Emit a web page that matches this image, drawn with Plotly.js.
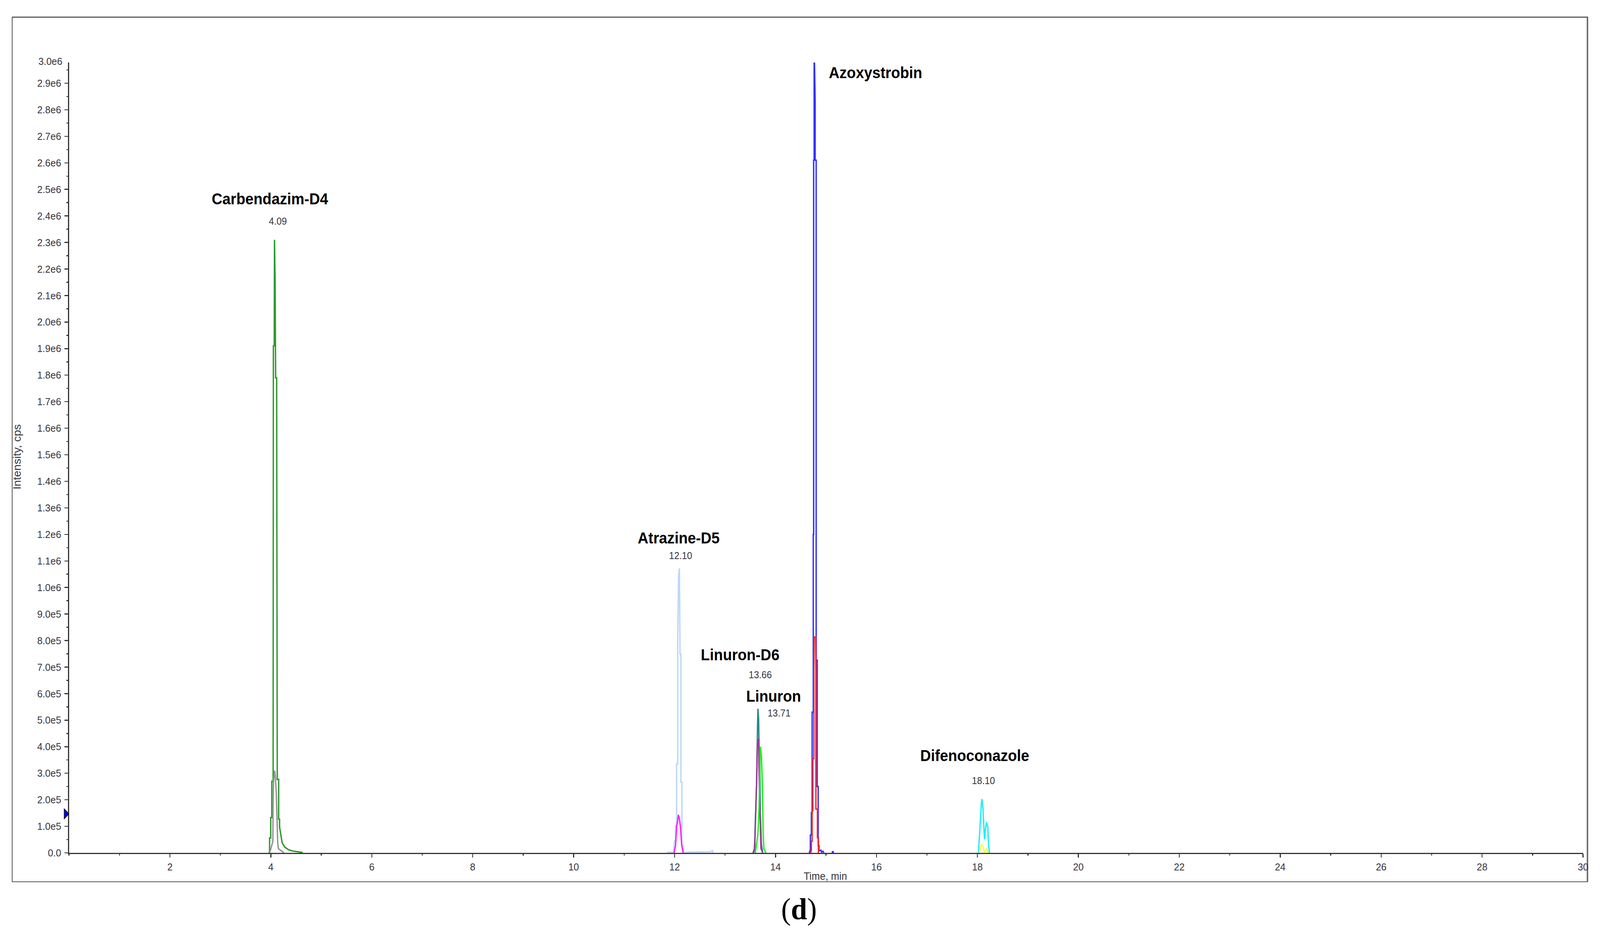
<!DOCTYPE html>
<html>
<head>
<meta charset="utf-8">
<script src="https://cdn.plot.ly/plotly-3.0.1.min.js"></script>
<style>html,body{margin:0;padding:0;background:#fff;overflow:hidden}#chart{width:4338px;height:2383px;transform-origin:0 0}</style>
</head>
<body>
<div id="chart"></div>
<script>
// intensity values are in units of 1e5 cps
const greenT=[3.965,3.975,3.975,3.997,3.997,4.019,4.019,4.045,4.05,4.067,4.072,4.085,4.095,4.115,4.127,4.155,4.155,4.173,4.173,4.20,4.224,4.275,4.348,4.428,4.50,4.611,4.63];
const greenI=[0,0.05,0.56,0.56,1.33,1.33,2.7,2.7,19.1,19.1,23.1,21.5,17.9,17.9,2.77,2.77,1.27,1.27,0.97,0.66,0.38,0.22,0.12,0.07,0.05,0.02,0];
const grayT=[3.97,3.98,4.01,4.04,4.045,4.053,4.077,4.09,4.107,4.127,4.136,4.15,4.21,4.26];
const grayI=[0,0.03,0.22,0.44,2.0,2.7,3.1,2.84,2.3,0.97,0.38,0.16,0.07,0];
const atrazineT=[11.85,11.95,11.98,11.985,12.00,12.02,12.02,12.04,12.04,12.062,12.062,12.08,12.095,12.108,12.108,12.125,12.125,12.145,12.145,12.17,12.18,12.3,12.5,12.7,12.74,12.75,12.76];
const atrazineI=[0.02,0.02,0,0.27,0.46,0.46,1.03,1.03,3.35,3.35,8.1,10.5,10.72,8.1,7.48,7.48,2.66,2.66,0.27,0.27,0,0.03,0.04,0.04,0.07,0.1,0];
const pinkT=[11.99,12.02,12.04,12.06,12.075,12.095,12.115,12.14,12.17];
const pinkI=[0,0.3,1.0,1.2,1.43,1.3,1.0,0.3,0];
const tealT=[13.56,13.59,13.597,13.626,13.643,13.651,13.665,13.674,13.691,13.698,13.722,13.747];
const tealI=[0,0.1,1.03,2.7,4.77,5.43,5.05,4.0,3.3,1.5,0.3,0];
const purpleT=[13.553,13.58,13.597,13.623,13.64,13.665,13.674,13.698,13.71,13.747];
const purpleI=[0,0.15,0.85,2.5,4.06,4.3,2.9,1.3,0.17,0];
const limeT=[13.60,13.651,13.674,13.686,13.70,13.722,13.735,13.755,13.77,13.81];
const limeI=[0,0.7,1.7,2.9,4.0,3.6,2.8,0.73,0.15,0];
const blueT=[14.665,14.675,14.69,14.69,14.71,14.71,14.725,14.725,14.748,14.748,14.755,14.755,14.765,14.765,14.772,14.785,14.785,14.805,14.805,14.825,14.825,14.845,14.845,14.862,14.862,14.90,14.91,14.94,14.96,null,15.12,15.135,15.15];
const blueI=[0,0.03,0.12,0.67,0.67,1.52,1.52,5.3,5.3,12,12,26.1,26.1,29.8,29.8,28.3,26.1,26.1,7.26,7.26,2.5,2.5,0.27,0.27,0.08,0.1,0.03,0.06,0,null,0,0.06,0];
const redT=[14.695,14.71,14.71,14.725,14.725,14.74,14.74,14.76,14.76,14.765,14.795,14.80,14.80,14.83,14.83,14.85,14.85];
const redI=[0,0.1,0.44,0.44,1.59,1.59,3.55,3.55,6.9,8.13,8.13,6.9,1.65,1.65,0.57,0.57,0];
const cyanT=[18.02,18.035,18.06,18.08,18.09,18.11,18.13,18.14,18.16,18.18,18.205,18.22,18.24];
const cyanI=[0,0.51,1.25,1.9,2.03,1.7,0.9,0.51,0.9,1.15,1.0,0.3,0];
const yellowT=[18.035,18.06,18.085,18.11,18.135,18.18,18.22];
const yellowI=[0,0.2,0.3,0.25,0.02,0.16,0];

const seriesT=[greenT,grayT,atrazineT,pinkT,tealT,purpleT,limeT,blueT,redT,cyanT,yellowT];
const seriesI=[greenI,grayI,atrazineI,pinkI,tealI,purpleI,limeI,blueI,redI,cyanI,yellowI];
const seriesC=['#2f982f','#939393','#bdd7f6','#ff20ff','#2a8a8a','#983c98','#20ee20','#3030ff','#ff2424','#20eeff','#ffff30'];

const yLabels=['0.0','1.0e5','2.0e5','3.0e5','4.0e5','5.0e5','6.0e5','7.0e5','8.0e5','9.0e5','1.0e6','1.1e6','1.2e6','1.3e6','1.4e6','1.5e6','1.6e6','1.7e6','1.8e6','1.9e6','2.0e6','2.1e6','2.2e6','2.3e6','2.4e6','2.5e6','2.6e6','2.7e6','2.8e6','2.9e6'];
const yTicks=[0,1,2,3,4,5,6,7,8,9,10,11,12,13,14,15,16,17,18,19,20,21,22,23,24,25,26,27,28,29];
const xTicks=[2,4,6,8,10,12,14,16,18,20,22,24,26,28,30];

const nameText=['Carbendazim-D4','Atrazine-D5','Linuron-D6','Linuron','Azoxystrobin','Difenoconazole'];
const nameT=[3.98,12.08,13.30,13.96,15.98,17.95];
const nameI=[24.64,11.87,7.46,5.90,29.4,3.665];
const rtText=['4.09','12.10','13.66','13.71','14.78','18.10'];
const rtT=[4.143,12.12,13.70,14.07,14.77,18.12];
const rtI=[23.8,11.2,6.71,5.27,30.05,2.72];
const thresholdI=1.47;
const yMax=29.78;

const W=4338,H=2383,L=187,R=4292,T=160,B=2183;
// the browser window may be narrower than the requested picture: fit the whole figure into it
const fitX=Math.min(1,window.innerWidth/W);
document.getElementById('chart').style.transform='scale('+fitX+',1)';

const px=v=>(v-L)/(R-L), py=v=>(B-v)/(B-T);
const sans='"Liberation Sans", Arial, sans-serif';
const grey='#35353f';

const traces=seriesT.map((t,i)=>({x:t,y:seriesI[i],type:'scatter',mode:'lines',connectgaps:false,
  line:{color:seriesC[i],width:3.7,shape:'linear'},hoverinfo:'skip',showlegend:false}));

const ann=[];
nameText.forEach((s,i)=>ann.push({x:nameT[i],y:nameI[i],text:'<b>'+s+'</b>',showarrow:false,xanchor:'center',yanchor:'middle',
  font:{family:sans,size:40,color:'#000'}}));
rtText.forEach((s,i)=>ann.push({x:rtT[i],y:rtI[i],text:s,showarrow:false,xanchor:'center',yanchor:'middle',
  font:{family:sans,size:25,color:grey}}));
ann.push({xref:'paper',yref:'paper',x:px(171),y:py(157),text:'3.0e6',showarrow:false,xanchor:'right',yanchor:'middle',
  font:{family:sans,size:26,color:grey}});
ann.push({xref:'paper',yref:'paper',x:px(2238),y:py(2243),text:'Time, min',showarrow:false,xanchor:'center',yanchor:'middle',
  font:{family:sans,size:27,color:grey}});
ann.push({xref:'paper',yref:'paper',x:px(46),y:py(1170),text:'Intensity, cps',textangle:-90,showarrow:false,xanchor:'center',yanchor:'middle',
  font:{family:sans,size:29,color:grey}});
ann.push({xref:'paper',yref:'paper',x:px(2166),y:py(2326),text:'(<b>d</b>)',showarrow:false,xanchor:'center',yanchor:'middle',
  font:{family:'"Liberation Serif", serif',size:79,color:'#000'}});

const line=(x0,y0,x1,y1,w,c)=>({type:'line',xref:'paper',yref:'paper',x0:px(x0),y0:py(y0),x1:px(x1),y1:py(y1),line:{color:c,width:w},layer:'below'});
const shapes=[line(33,44,4305,44,3.5,'#6a6a6a'),line(4304,43,4304,2257,4,'#6a6a6a'),line(33,43,33,2257,2.2,'#555'),line(33,2257,4305,2257,2.2,'#555')];
// threshold marker on the intensity axis (paper-referenced so it is not clipped to the plot area)
shapes.push({type:'path',xref:'paper',yref:'paper',xsizemode:'pixel',ysizemode:'pixel',xanchor:0,yanchor:thresholdI/yMax,
  path:'M -13 -13 L 0 0 L -13 13 Z',fillcolor:'#0000e8',line:{color:'#111',width:1.5},layer:'above'});

const layout={width:W,height:H,paper_bgcolor:'#fff',plot_bgcolor:'#fff',showlegend:false,
  margin:{l:L,r:W-R,t:T,b:H-B,pad:0},
  xaxis:{range:[0,30],tickmode:'array',tickvals:xTicks,ticktext:xTicks.map(String),showgrid:false,zeroline:false,
    showline:true,linecolor:'#333',linewidth:3,ticks:'outside',ticklen:9,tickwidth:2.5,tickcolor:'#333',
    minor:{dtick:1,tick0:1,ticks:'outside',ticklen:4,tickwidth:2.5,tickcolor:'#333',showgrid:false},
    tickfont:{family:sans,size:26,color:grey},ticklabelstandoff:2},
  yaxis:{range:[0,yMax],tickmode:'array',tickvals:yTicks,ticktext:yLabels,showgrid:false,zeroline:false,
    showline:true,linecolor:'#333',linewidth:3,ticks:'outside',ticklen:9,tickwidth:2.5,tickcolor:'#333',
    minor:{dtick:1,tick0:0.5,ticks:'outside',ticklen:4,tickwidth:2.5,tickcolor:'#333',showgrid:false},
    tickfont:{family:sans,size:26,color:grey},ticklabelstandoff:4},
  annotations:ann,shapes:shapes};
Plotly.newPlot('chart',traces,layout,{displayModeBar:false,staticPlot:true});
</script>
</body>
</html>
